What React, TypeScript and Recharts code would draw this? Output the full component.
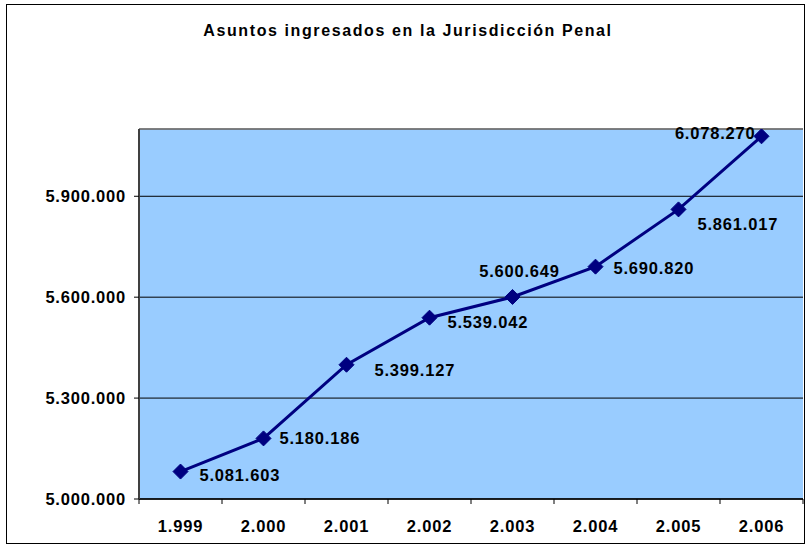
import React from "react";
import { LineChart, Line, XAxis, YAxis, CartesianGrid, ReferenceLine } from "recharts";

const years = ["1.999", "2.000", "2.001", "2.002", "2.003", "2.004", "2.005", "2.006"];
const asuntos = [5081603, 5180186, 5399127, 5539042, 5600649, 5690820, 5861017, 6078270];
const yTicks = [5000000, 5300000, 5600000, 5900000];
const yDomain = [5000000, 6100000];
const title = "Asuntos ingresados en la Jurisdicción Penal";

const data = years.map((year, i) => ({ year, value: asuntos[i] }));

const W = 806;
const H = 545;
const ML = 139;
const MR = 3;
const MT = 129;
const MB = 46;
const BAND = (W - ML - MR) / years.length;
const FONT = "'Liberation Sans', Arial, sans-serif";
const FS = 16.5;
const LS = 0.8;

const fmt = (v: number) => {
  const s = Math.round(v).toString();
  return s.replace(/\B(?=(\d{3})+(?!\d))/g, ".");
};

// label placement: [dx, dy, anchor]
const labelPlace: [number, number, string][] = [
  [19, 4, "start"],
  [16, 0, "start"],
  [28, 5, "start"],
  [18, 5, "start"],
  [7, -26, "middle"],
  [18, 2, "start"],
  [19, 15, "start"],
  [-6, -3, "end"],
];

const Diamond = (props: any) => {
  const { cx, cy } = props;
  if (cx == null || cy == null) return null;
  const r = 7.5;
  return (
    <path
      d={`M${cx},${cy - r} L${cx + r},${cy} L${cx},${cy + r} L${cx - r},${cy} Z`}
      fill="#000080"
      stroke="#000080"
    />
  );
};

const DataLabel = (props: any) => {
  const { x, y, value, index } = props;
  const p = labelPlace[index] || [16, 0, "start"];
  return (
    <text
      x={x + p[0]}
      y={y + p[1]}
      dy="0.35em"
      textAnchor={p[2] as any}
      fontFamily={FONT}
      fontWeight="bold"
      fontSize={FS}
      letterSpacing={LS}
      fill="#000"
    >
      {fmt(value)}
    </text>
  );
};

const XTick = (props: any) => {
  const { x, y, payload, index } = props;
  const axisY = y - 27;
  return (
    <g>
      <line x1={x - BAND / 2} y1={axisY} x2={x - BAND / 2} y2={axisY + 5} stroke="#000" />
      {index === years.length - 1 && (
        <line x1={x + BAND / 2} y1={axisY} x2={x + BAND / 2} y2={axisY + 5} stroke="#000" />
      )}
      <text
        x={x}
        y={y}
        dy="0.35em"
        textAnchor="middle"
        fontFamily={FONT}
        fontWeight="bold"
        fontSize={FS}
        letterSpacing={LS}
        fill="#000"
      >
        {payload.value}
      </text>
    </g>
  );
};

export default function App() {
  return (
    <div style={{ position: "absolute", left: 0, top: 0, width: W, height: H, background: "#fff" }}>
      <div
        style={{
          position: "absolute",
          left: 6,
          top: 4,
          width: 797,
          height: 538,
          border: "1px solid #000",
        }}
      />
      <div
        style={{
          position: "absolute",
          left: 0,
          width: W,
          top: 22,
          lineHeight: "18px",
          textAlign: "center",
          fontFamily: FONT,
          fontWeight: "bold",
          fontSize: 16,
          letterSpacing: 1.6,
          color: "#000",
          paddingLeft: 10,
          boxSizing: "border-box",
          whiteSpace: "nowrap",
        }}
      >
        {title}
      </div>
      <div style={{ position: "absolute", left: 0, top: 0 }}>
        <LineChart width={W} height={H} data={data} margin={{ top: MT, right: MR, bottom: 0, left: 0 }}>
          <CartesianGrid vertical={false} stroke="#000" fill="#99CCFF" fillOpacity={1} />
          <ReferenceLine y={6100000} stroke="#808080" strokeWidth={1.5} ifOverflow="extendDomain" />
          <XAxis
            dataKey="year"
            height={MB}
            padding={{ left: BAND / 2, right: BAND / 2 }}
            tickLine={false}
            tickSize={5}
            tickMargin={22}
            axisLine={{ stroke: "#000", strokeWidth: 1.5 }}
            tick={<XTick />}
            interval={0}
          />
          <YAxis
            width={ML}
            domain={yDomain}
            ticks={yTicks}
            tickFormatter={fmt}
            tickSize={5}
            tickMargin={8}
            allowDataOverflow
            axisLine={{ stroke: "#404040", strokeWidth: 2 }}
            tickLine={{ stroke: "#000" }}
            tick={{ fontFamily: FONT, fontWeight: "bold", fontSize: FS, fill: "#000", letterSpacing: LS }}
          />
          <Line
            dataKey="value"
            stroke="#000080"
            strokeWidth={3}
            dot={<Diamond />}
            activeDot={false}
            label={<DataLabel />}
            isAnimationActive={false}
          />
        </LineChart>
      </div>
    </div>
  );
}
